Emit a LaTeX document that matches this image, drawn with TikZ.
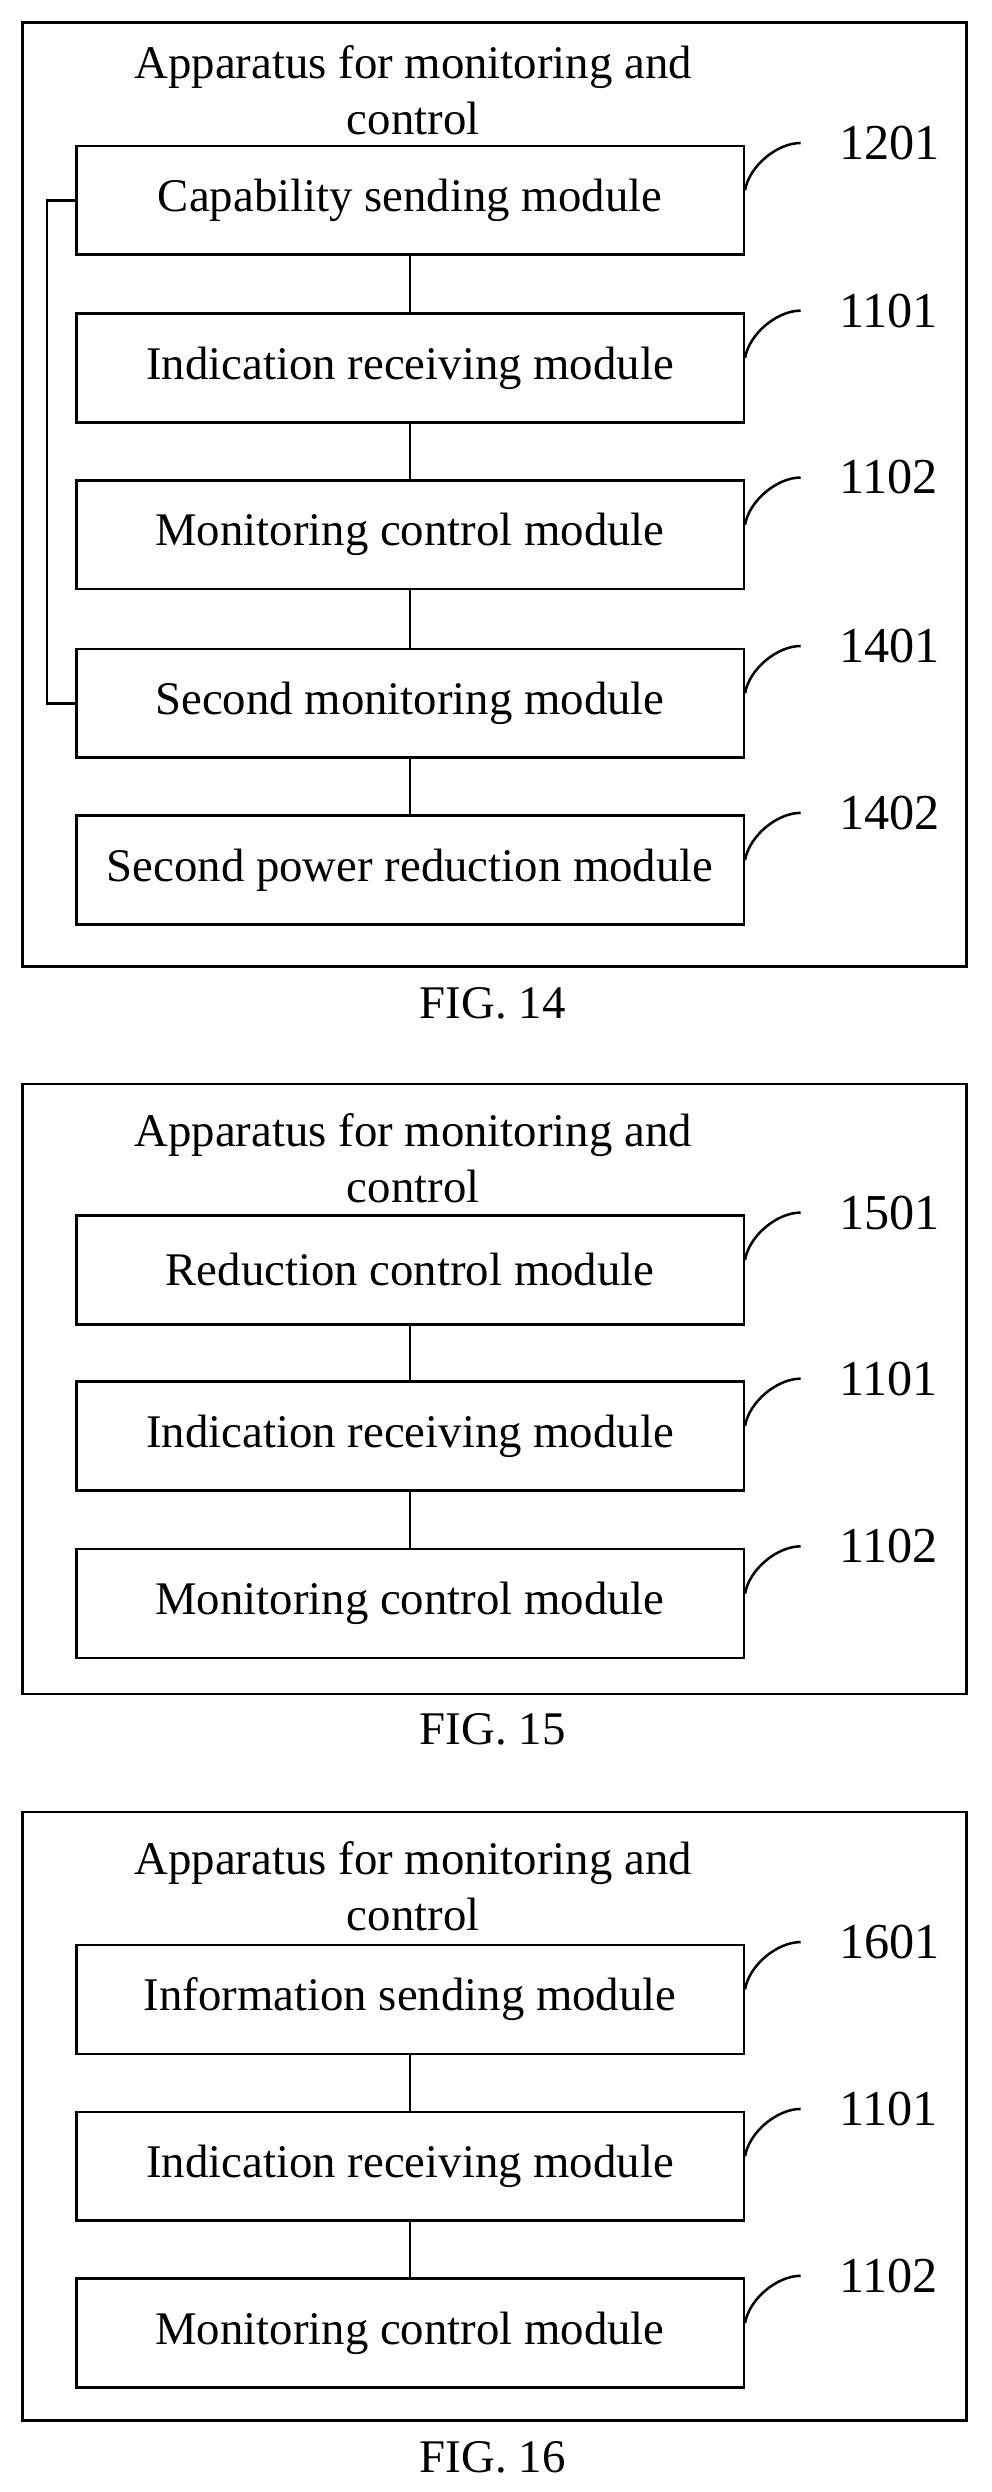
\documentclass[tikz,border=0pt]{standalone}
\usepackage{fontspec}
\setmainfont{Liberation Serif}
\begin{document}
\begin{tikzpicture}[x=0.4mm,y=-0.4mm,
 mod/.style={draw,line width=1.8pt,minimum width=168mm,minimum height=27.4mm,inner sep=0pt,font=\fontsize{33.5}{40}\selectfont},
 outer/.style={draw,line width=1.8pt},
 lbl/.style={font=\fontsize{36}{44}\selectfont,anchor=west,inner sep=0pt},
 ttl/.style={font=\fontsize{33.5}{40}\selectfont,align=center},
 ln/.style={line width=1.8pt}]
\useasboundingbox (0,0) rectangle (624,1568);
\newcommand{\hook}[3]{% node name, label text, label name
 \node[lbl] (#3) at ([xshift=23.6mm,yshift=0.4mm]#1.north east) {#2};
 \draw[ln] ([yshift=-11.5mm]#1.north east) .. controls +(1mm,6mm) and +(-6mm,0) .. ([xshift=14mm,yshift=0.4mm]#1.north east);}
% FIG 14
\draw[outer] (14,14) rectangle (608,608);
\node[ttl] (t14) at (260,57) {Apparatus for monitoring and\\control};
\node[mod] (a1) at (258,126) {Capability sending module};
\node[mod] (a2) at (258,231.5) {Indication receiving module};
\node[mod] (a3) at (258,336.5) {Monitoring control module};
\node[mod] (a4) at (258,442.5) {Second monitoring module};
\node[mod] (a5) at (258,547.5) {Second power reduction module};
\draw[ln] (a1)--(a2) (a2)--(a3) (a3)--(a4) (a4)--(a5);
\draw[ln] (a1.west) -- ++(-7mm,0) |- (a4.west);
\hook{a1}{1201}{l1}\hook{a2}{1101}{l2}\hook{a3}{1102}{l3}\hook{a4}{1401}{l4}\hook{a5}{1402}{l5}
\node[ttl] (c14) at (310,631) {FIG. 14};
% FIG 15
\draw[outer] (14,682) rectangle (608,1066);
\node[ttl] (t15) at (260,729) {Apparatus for monitoring and\\control};
\node[mod] (b1) at (258,799) {Reduction control module};
\node[mod] (b2) at (258,903.5) {Indication receiving module};
\node[mod] (b3) at (258,1009) {Monitoring control module};
\draw[ln] (b1)--(b2) (b2)--(b3);
\hook{b1}{1501}{m1}\hook{b2}{1101}{m2}\hook{b3}{1102}{m3}
\node[ttl] (c15) at (310,1088) {FIG. 15};
% FIG 16
\draw[outer] (14,1140) rectangle (608,1523);
\node[ttl] (t16) at (260,1187) {Apparatus for monitoring and\\control};
\node[mod] (d1) at (258,1258) {Information sending module};
\node[mod] (d2) at (258,1363) {Indication receiving module};
\node[mod] (d3) at (258,1468) {Monitoring control module};
\draw[ln] (d1)--(d2) (d2)--(d3);
\hook{d1}{1601}{n1}\hook{d2}{1101}{n2}\hook{d3}{1102}{n3}
\node[ttl] (c16) at (310,1546) {FIG. 16};
\end{tikzpicture}
\end{document}
